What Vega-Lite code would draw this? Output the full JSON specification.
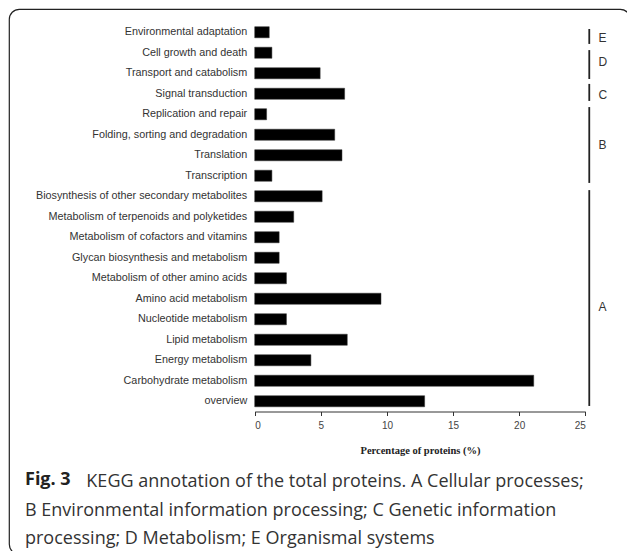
{
  "$schema": "https://vega.github.io/schema/vega-lite/v6.json",
  "autosize": "none",
  "width": 621,
  "height": 545,
  "padding": {"left": 9, "top": 9, "right": -3, "bottom": -3},
  "background": "white",
  "config": {
    "view": {"stroke": "#222", "strokeWidth": 1.2, "cornerRadius": 10, "fill": "white"},
    "axis": {"grid": false}
  },
  "title": {
    "text": "Fig. 3",
    "subtitle": [
      "\u2800\u2800\u2800\u2800\u00a0 KEGG annotation of the total proteins. A Cellular processes;",
      "B Environmental information processing; C Genetic information",
      "processing; D Metabolism; E Organismal systems"
    ],
    "orient": "bottom",
    "anchor": "start",
    "frame": "group",
    "offset": -83.5,
    "dx": 16,
    "font": "Open Sans",
    "fontWeight": "bold",
    "fontSize": 18,
    "color": "#222",
    "lineHeight": 28.5,
    "subtitleFont": "Open Sans",
    "subtitleFontSize": 18,
    "subtitleFontWeight": "normal",
    "subtitleColor": "#333",
    "subtitleLineHeight": 28.5,
    "subtitlePadding": -15.5
  },
  "layer": [
    {
      "data": {
        "values": [
          {"category": "Environmental adaptation", "pct": 1.1},
          {"category": "Cell growth and death", "pct": 1.3},
          {"category": "Transport and catabolism", "pct": 4.95},
          {"category": "Signal transduction", "pct": 6.8},
          {"category": "Replication and repair", "pct": 0.9},
          {"category": "Folding, sorting and degradation", "pct": 6.05},
          {"category": "Translation", "pct": 6.6},
          {"category": "Transcription", "pct": 1.3},
          {"category": "Biosynthesis of other secondary metabolites", "pct": 5.1},
          {"category": "Metabolism of terpenoids and polyketides", "pct": 2.95},
          {"category": "Metabolism of cofactors and vitamins", "pct": 1.85},
          {"category": "Glycan biosynthesis and metabolism", "pct": 1.85},
          {"category": "Metabolism of other amino acids", "pct": 2.4},
          {"category": "Amino acid metabolism", "pct": 9.55},
          {"category": "Nucleotide metabolism", "pct": 2.4},
          {"category": "Lipid metabolism", "pct": 7.0},
          {"category": "Energy metabolism", "pct": 4.25},
          {"category": "Carbohydrate metabolism", "pct": 21.1},
          {"category": "overview", "pct": 12.85}
        ]
      },
      "mark": {"type": "bar", "color": "#000", "stroke": "#333", "strokeWidth": 0.5},
      "encoding": {
        "y": {
          "field": "category",
          "type": "nominal",
          "sort": null,
          "scale": {"range": [13, 402.5], "paddingInner": 0.46, "paddingOuter": 0.23},
          "axis": {
            "title": null,
            "domain": false,
            "ticks": false,
            "offset": -245.7,
            "labelPadding": 8,
            "labelFont": "Liberation Sans",
            "labelFontSize": 10.8,
            "labelColor": "#333",
            "labelLimit": 0
          }
        },
        "x": {
          "field": "pct",
          "type": "quantitative",
          "scale": {"domain": [0, 25], "range": [245.7, 576.3], "nice": false},
          "axis": {
            "title": "Percentage of proteins (%)",
            "values": [0, 5, 10, 15, 20, 25],
            "offset": -142.5,
            "domainColor": "#333",
            "tickColor": "#333",
            "tickSize": 4,
            "labelPadding": 5,
            "labelFont": "Liberation Sans",
            "labelFontSize": 10,
            "labelColor": "#444",
            "titleFont": "Liberation Serif",
            "titleFontWeight": "bold",
            "titleFontSize": 10.5,
            "titleColor": "#222",
            "titlePadding": 15
          }
        }
      }
    },
    {
      "data": {
        "values": [
          {"group": "E", "start": 0.34, "end": 1.07, "labelPos": 0.78},
          {"group": "D", "start": 1.37, "end": 2.78, "labelPos": 1.95},
          {"group": "C", "start": 3.02, "end": 3.85, "labelPos": 3.56},
          {"group": "B", "start": 4.15, "end": 7.85, "labelPos": 6.0},
          {"group": "A", "start": 8.2, "end": 18.73, "labelPos": 13.9}
        ]
      },
      "layer": [
        {
          "mark": {"type": "rule", "stroke": "#222", "strokeWidth": 1.8},
          "encoding": {
            "x": {"datum": 25.3, "type": "quantitative"},
            "y": {"field": "start", "type": "quantitative", "scale": {"domain": [0, 19], "range": [13, 402.5], "nice": false, "zero": false}, "axis": null},
            "y2": {"field": "end"}
          }
        },
        {
          "mark": {"type": "text", "align": "left", "baseline": "middle", "font": "Liberation Sans", "fontSize": 12, "color": "#333"},
          "encoding": {
            "x": {"datum": 26, "type": "quantitative"},
            "y": {"field": "labelPos", "type": "quantitative", "axis": null},
            "text": {"field": "group"}
          }
        }
      ]
    }
  ],
  "resolve": {"scale": {"y": "independent"}, "axis": {"y": "independent"}}
}
